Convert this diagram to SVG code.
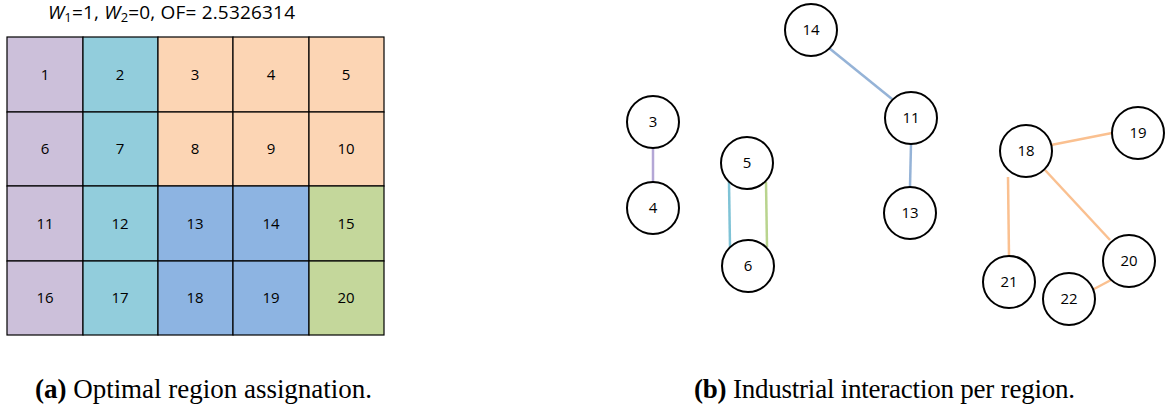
<svg xmlns="http://www.w3.org/2000/svg" width="1168" height="408" viewBox="0 0 1168 408">
<style>
.cell{stroke:#000;stroke-width:1.2}
.pu{fill:#CCC0DA}.te{fill:#92CDDC}.pe{fill:#FCD5B4}.bl{fill:#8DB4E2}.gr{fill:#C4D79B}
.ct{font-family:"Open Sans","Liberation Sans",sans-serif;font-size:15px;text-anchor:middle;fill:#000}
.nd{fill:#fff;stroke:#000;stroke-width:2}
.nt{font-family:"Open Sans","Liberation Sans",sans-serif;font-size:15px;text-anchor:middle;fill:#000}
.e{stroke-width:2.5;fill:none}
.cap{font-family:"Liberation Serif",serif;font-size:27px;fill:#000}
</style>
<rect width="1168" height="408" fill="#fff"/>
<text x="48" y="19" font-family="Open Sans, Liberation Sans, sans-serif" font-size="19" textLength="247"><tspan font-style="italic">W</tspan><tspan font-size="13" dy="3">1</tspan><tspan dy="-3">=1, </tspan><tspan font-style="italic">W</tspan><tspan font-size="13" dy="3">2</tspan><tspan dy="-3">=0, OF= 2.5326314</tspan></text>
<g id="grid">
<rect class="cell pu" x="7" y="37" width="76" height="75"/>
<rect class="cell te" x="83" y="37" width="75" height="75"/>
<rect class="cell pe" x="158" y="37" width="75" height="75"/>
<rect class="cell pe" x="233" y="37" width="76" height="75"/>
<rect class="cell pe" x="309" y="37" width="75" height="75"/>
<rect class="cell pu" x="7" y="112" width="76" height="74"/>
<rect class="cell te" x="83" y="112" width="75" height="74"/>
<rect class="cell pe" x="158" y="112" width="75" height="74"/>
<rect class="cell pe" x="233" y="112" width="76" height="74"/>
<rect class="cell pe" x="309" y="112" width="75" height="74"/>
<rect class="cell pu" x="7" y="186" width="76" height="75"/>
<rect class="cell te" x="83" y="186" width="75" height="75"/>
<rect class="cell bl" x="158" y="186" width="75" height="75"/>
<rect class="cell bl" x="233" y="186" width="76" height="75"/>
<rect class="cell gr" x="309" y="186" width="75" height="75"/>
<rect class="cell pu" x="7" y="261" width="76" height="74"/>
<rect class="cell te" x="83" y="261" width="75" height="74"/>
<rect class="cell bl" x="158" y="261" width="75" height="74"/>
<rect class="cell bl" x="233" y="261" width="76" height="74"/>
<rect class="cell gr" x="309" y="261" width="75" height="74"/>
<text class="ct" x="45" y="80">1</text><text class="ct" x="120" y="80">2</text><text class="ct" x="195" y="80">3</text><text class="ct" x="271" y="80">4</text><text class="ct" x="346" y="80">5</text>
<text class="ct" x="45" y="154">6</text><text class="ct" x="120" y="154">7</text><text class="ct" x="195" y="154">8</text><text class="ct" x="271" y="154">9</text><text class="ct" x="346" y="154">10</text>
<text class="ct" x="45" y="229">11</text><text class="ct" x="120" y="229">12</text><text class="ct" x="195" y="229">13</text><text class="ct" x="271" y="229">14</text><text class="ct" x="346" y="229">15</text>
<text class="ct" x="45" y="303">16</text><text class="ct" x="120" y="303">17</text><text class="ct" x="195" y="303">18</text><text class="ct" x="271" y="303">19</text><text class="ct" x="346" y="303">20</text>
</g>
<g id="connectors">
<line class="e" stroke="#B4A7D6" x1="653" y1="148" x2="653" y2="182"/>
<line class="e" stroke="#7FC3D6" x1="729" y1="182" x2="730" y2="247"/>
<line class="e" stroke="#B9D48E" x1="766" y1="182" x2="767" y2="247"/>
<line class="e" stroke="#95B3D7" x1="829" y1="48" x2="892" y2="99"/>
<line class="e" stroke="#95B3D7" x1="911" y1="144" x2="910" y2="187"/>
<line class="e" stroke="#FAC090" x1="1051" y1="145" x2="1112" y2="133"/>
<line class="e" stroke="#FAC090" x1="1008" y1="177" x2="1009" y2="256"/>
<line class="e" stroke="#FAC090" x1="1045" y1="170" x2="1110" y2="240"/>
<line class="e" stroke="#FAC090" x1="1094" y1="289" x2="1111" y2="280"/>
</g>
<g id="n3"><circle class="nd" cx="653" cy="122" r="26"/><text class="nt" x="653" y="127">3</text></g>
<g id="n4"><circle class="nd" cx="653" cy="208" r="26"/><text class="nt" x="653" y="213">4</text></g>
<g id="n5"><circle class="nd" cx="747" cy="163" r="26"/><text class="nt" x="747" y="168">5</text></g>
<g id="n6"><circle class="nd" cx="748" cy="266" r="26"/><text class="nt" x="748" y="271">6</text></g>
<g id="n14"><circle class="nd" cx="811" cy="30" r="26"/><text class="nt" x="811" y="35">14</text></g>
<g id="n11"><circle class="nd" cx="911" cy="118" r="26"/><text class="nt" x="911" y="123">11</text></g>
<g id="n13"><circle class="nd" cx="910" cy="213" r="26"/><text class="nt" x="910" y="218">13</text></g>
<g id="n18"><circle class="nd" cx="1026" cy="151" r="26"/><text class="nt" x="1026" y="156">18</text></g>
<g id="n19"><circle class="nd" cx="1138" cy="133" r="26"/><text class="nt" x="1138" y="138">19</text></g>
<g id="n21"><circle class="nd" cx="1009" cy="282" r="26"/><text class="nt" x="1009" y="287">21</text></g>
<g id="n20"><circle class="nd" cx="1129" cy="261" r="26"/><text class="nt" x="1129" y="266">20</text></g>
<g id="n22"><circle class="nd" cx="1069" cy="299" r="26"/><text class="nt" x="1069" y="304">22</text></g>
<text class="cap" x="35" y="398" textLength="337"><tspan font-weight="bold">(a)</tspan> Optimal region assignation.</text>
<text class="cap" x="694" y="398" textLength="381"><tspan font-weight="bold">(b)</tspan> Industrial interaction per region.</text>
</svg>
